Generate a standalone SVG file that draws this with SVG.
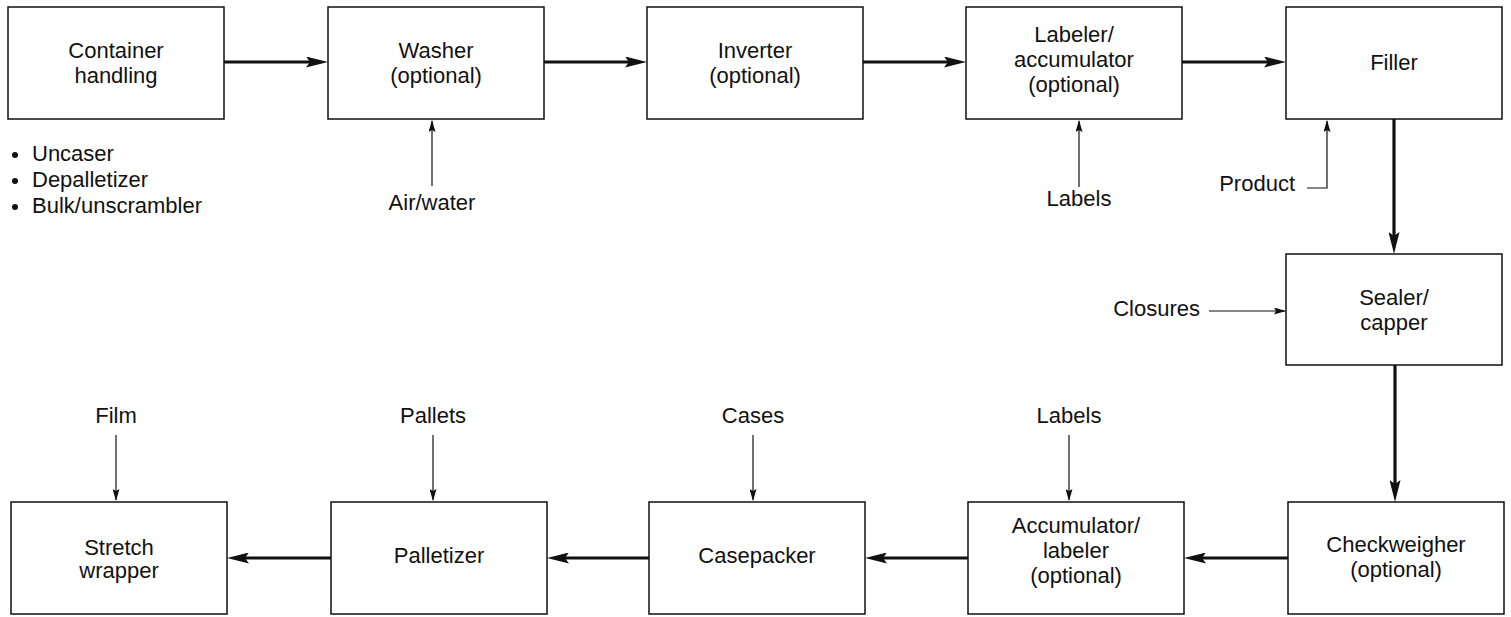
<svg xmlns="http://www.w3.org/2000/svg" width="1511" height="617" viewBox="0 0 1511 617">
<style>
.box{fill:#fff;stroke:#111;stroke-width:1.5}
.t{font-family:"Liberation Sans",Arial,sans-serif;font-size:22px;fill:#111}
.c{text-anchor:middle}
.e{text-anchor:end}
.thick{stroke:#111;stroke-width:3.2;fill:none}
.thin{stroke:#111;stroke-width:1.2;fill:none}
</style>
<defs>
<marker id="ah" markerUnits="userSpaceOnUse" viewBox="0 0 22 11" markerWidth="22" markerHeight="11" refX="10" refY="5.5" orient="auto">
<path d="M0,0 L22,5.5 L0,11 L4,5.5 Z" fill="#111"/>
</marker>
<marker id="as" markerUnits="userSpaceOnUse" viewBox="0 0 12 7" markerWidth="12" markerHeight="7" refX="11" refY="3.5" orient="auto">
<path d="M0,0 L12,3.5 L0,7 L2,3.5 Z" fill="#111"/>
</marker>
</defs>
<rect width="1511" height="617" fill="#fff"/>

<g id="container">
<rect class="box" x="8" y="7" width="216" height="112"/>
<text class="t c" x="116" y="58">Container</text>
<text class="t c" x="116" y="83">handling</text>
</g>
<g id="container-list">
<circle cx="15" cy="155" r="3" fill="#111"/>
<circle cx="15" cy="181" r="3" fill="#111"/>
<circle cx="15" cy="207" r="3" fill="#111"/>
<text class="t" x="32" y="161">Uncaser</text>
<text class="t" x="32" y="187">Depalletizer</text>
<text class="t" x="32" y="213">Bulk/unscrambler</text>
</g>
<g id="washer">
<rect class="box" x="328" y="7" width="216" height="112"/>
<text class="t c" x="436" y="58">Washer</text>
<text class="t c" x="436" y="83">(optional)</text>
</g>
<g id="inverter">
<rect class="box" x="647" y="7" width="216" height="112"/>
<text class="t c" x="755" y="58">Inverter</text>
<text class="t c" x="755" y="83">(optional)</text>
</g>
<g id="labeler">
<rect class="box" x="966" y="7" width="216" height="112"/>
<text class="t c" x="1074" y="42">Labeler/</text>
<text class="t c" x="1074" y="67">accumulator</text>
<text class="t c" x="1074" y="92">(optional)</text>
</g>
<g id="filler">
<rect class="box" x="1286" y="7" width="216" height="112"/>
<text class="t c" x="1394" y="70">Filler</text>
</g>
<g id="sealer">
<rect class="box" x="1286" y="254" width="216" height="111"/>
<text class="t c" x="1394" y="305">Sealer/</text>
<text class="t c" x="1394" y="330">capper</text>
</g>
<g id="checkweigher">
<rect class="box" x="1288" y="502" width="216" height="112"/>
<text class="t c" x="1396" y="552">Checkweigher</text>
<text class="t c" x="1396" y="577">(optional)</text>
</g>
<g id="accumulator">
<rect class="box" x="968" y="502" width="216" height="112"/>
<text class="t c" x="1076" y="533">Accumulator/</text>
<text class="t c" x="1076" y="558">labeler</text>
<text class="t c" x="1076" y="583">(optional)</text>
</g>
<g id="casepacker">
<rect class="box" x="649" y="502" width="216" height="112"/>
<text class="t c" x="757" y="563">Casepacker</text>
</g>
<g id="palletizer">
<rect class="box" x="331" y="502" width="216" height="112"/>
<text class="t c" x="439" y="563">Palletizer</text>
</g>
<g id="stretch">
<rect class="box" x="11" y="502" width="216" height="112"/>
<text class="t c" x="119" y="555">Stretch</text>
<text class="t c" x="119" y="578">wrapper</text>
</g>

<g id="input-labels">
<text class="t c" x="432" y="210">Air/water</text>
<text class="t c" x="1079" y="206">Labels</text>
<text class="t e" x="1295" y="191">Product</text>
<text class="t e" x="1200" y="316">Closures</text>
<text class="t c" x="116" y="423">Film</text>
<text class="t c" x="433" y="423">Pallets</text>
<text class="t c" x="753" y="423">Cases</text>
<text class="t c" x="1069" y="423">Labels</text>
</g>

<g id="connectors">
<line class="thick" x1="224" y1="62" x2="316" y2="62" marker-end="url(#ah)"/>
<line class="thick" x1="544" y1="62" x2="635" y2="62" marker-end="url(#ah)"/>
<line class="thick" x1="863" y1="62" x2="954" y2="62" marker-end="url(#ah)"/>
<line class="thick" x1="1182" y1="62" x2="1274" y2="62" marker-end="url(#ah)"/>
<line class="thick" x1="1394" y1="119" x2="1394" y2="242" marker-end="url(#ah)"/>
<line class="thick" x1="1395" y1="365" x2="1395" y2="490" marker-end="url(#ah)"/>
<line class="thick" x1="1288" y1="558" x2="1196" y2="558" marker-end="url(#ah)"/>
<line class="thick" x1="968" y1="558" x2="877" y2="558" marker-end="url(#ah)"/>
<line class="thick" x1="649" y1="558" x2="559" y2="558" marker-end="url(#ah)"/>
<line class="thick" x1="331" y1="558" x2="239" y2="558" marker-end="url(#ah)"/>
<line class="thin" x1="432" y1="186" x2="432" y2="121" marker-end="url(#as)"/>
<line class="thin" x1="1079" y1="187" x2="1079" y2="121" marker-end="url(#as)"/>
<polyline class="thin" points="1307,188 1327,188 1327,121" marker-end="url(#as)"/>
<line class="thin" x1="1209" y1="311" x2="1285" y2="311" marker-end="url(#as)"/>
<line class="thin" x1="116" y1="435" x2="116" y2="500" marker-end="url(#as)"/>
<line class="thin" x1="433" y1="435" x2="433" y2="500" marker-end="url(#as)"/>
<line class="thin" x1="753" y1="435" x2="753" y2="500" marker-end="url(#as)"/>
<line class="thin" x1="1069" y1="435" x2="1069" y2="500" marker-end="url(#as)"/>
</g>
</svg>
